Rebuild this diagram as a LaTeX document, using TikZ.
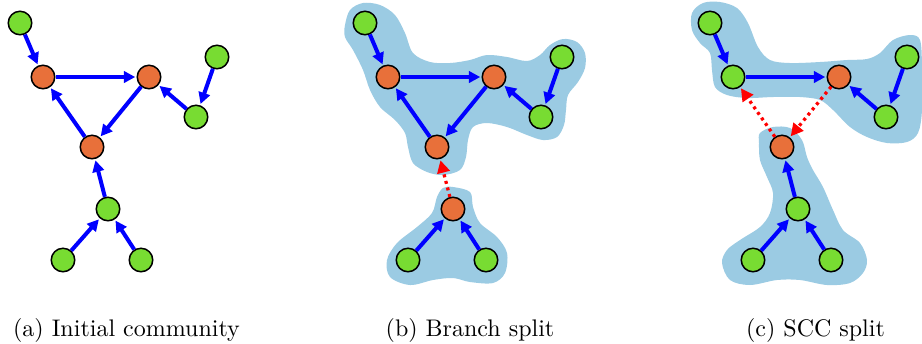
\documentclass[tikz,border=0pt]{standalone}
\usetikzlibrary{arrows.meta}
\definecolor{gnode}{HTML}{78DC32}
\definecolor{onode}{HTML}{E8703A}
\definecolor{blob}{HTML}{9BCBE3}
\begin{document}
\begin{tikzpicture}[x=0.4pt,y=-0.4pt,
  vert/.style={circle,draw=black,line width=0.6pt,minimum size=9.4pt,inner sep=0pt},
  gv/.style={vert,fill=gnode},
  ov/.style={vert,fill=onode},
  edge/.style={draw=blue,line width=1.6pt,-{Triangle[length=4.6pt,width=4.6pt]},shorten >=0.5pt},
  redge/.style={draw=red,line width=1.3pt,dash pattern=on 1.2pt off 1.5pt,-{Triangle[length=5pt,width=5pt]},shorten >=0.5pt},
  region/.style={fill=blob,draw=none},
  captext/.style={font=\fontsize{9.6}{11.5}\selectfont,anchor=base}]
\useasboundingbox (0,0) rectangle (922,343);

% ---------- regions ----------
\fill[region] plot[smooth cycle,tension=0.55] coordinates {
 (345,25) (350,10) (363,3) (380,5) (395,15) (405,33) (413,53) (430,62) (450,63) (470,60) (487,55) (507,57) (527,61) (540,55) (550,45) (563,39) (577,42) (585,53) (585,68) (578,82) (568,95) (566,110) (564,125) (557,137) (543,140) (527,135) (507,127) (487,123) (473,127) (468,140) (466,157) (460,170) (443,175) (427,172) (413,163) (408,147) (405,133) (395,120) (380,107) (370,90) (363,70) (353,50) (345,37)};
\fill[region] plot[smooth cycle,tension=0.55] coordinates {
 (453,187) (470,192) (473,207) (480,223) (497,237) (507,253) (505,273) (493,283) (470,282) (453,278) (433,280) (410,285) (390,277) (387,260) (397,243) (417,227) (432,213) (437,197) (443,188)};
\fill[region] plot[smooth cycle,tension=0.55] coordinates {
 (692,13) (703,3) (720,2) (737,8) (748,23) (758,47) (770,60) (790,63) (820,62) (847,60) (867,59) (880,53) (893,40) (910,35) (920,40) (922,67) (922,110) (918,133) (907,142) (887,143) (867,137) (850,127) (833,110) (820,100) (800,97) (773,97) (747,98) (727,95) (715,87) (712,70) (710,53) (700,43) (692,30)};
\fill[region] plot[smooth cycle,tension=0.55] coordinates {
 (760,133) (773,127) (790,128) (802,140) (807,157) (813,170) (823,187) (833,210) (843,230) (860,243) (867,260) (863,273) (850,283) (827,285) (800,280) (777,280) (750,285) (730,280) (722,263) (727,250) (740,240) (760,227) (770,213) (773,193) (767,177) (760,160) (759,143)};

% ---------- panel (a) ----------
\node[gv] (aA) at (20,23) {};
\node[ov] (aB) at (43,77) {};
\node[ov] (aC) at (149,77) {};
\node[gv] (aD) at (217,57) {};
\node[gv] (aE) at (196,117) {};
\node[ov] (aF) at (92,147) {};
\node[gv] (aG) at (108,209) {};
\node[gv] (aH) at (63,260) {};
\node[gv] (aI) at (141,260) {};
\draw[edge] (aA) -- (aB);
\draw[edge] (aB) -- (aC);
\draw[edge] (aC) -- (aF);
\draw[edge] (aF) -- (aB);
\draw[edge] (aD) -- (aE);
\draw[edge] (aE) -- (aC);
\draw[edge] (aG) -- (aF);
\draw[edge] (aH) -- (aG);
\draw[edge] (aI) -- (aG);

% ---------- panel (b) ----------
\node[gv] (bA) at (365,23) {};
\node[ov] (bB) at (388,77) {};
\node[ov] (bC) at (494,77) {};
\node[gv] (bD) at (562,57) {};
\node[gv] (bE) at (541,117) {};
\node[ov] (bF) at (437,147) {};
\node[ov] (bG) at (453,209) {};
\node[gv] (bH) at (408,260) {};
\node[gv] (bI) at (486,260) {};
\draw[edge] (bA) -- (bB);
\draw[edge] (bB) -- (bC);
\draw[edge] (bC) -- (bF);
\draw[edge] (bF) -- (bB);
\draw[edge] (bD) -- (bE);
\draw[edge] (bE) -- (bC);
\draw[redge] (bG) -- (bF);
\draw[edge] (bH) -- (bG);
\draw[edge] (bI) -- (bG);

% ---------- panel (c) ----------
\node[gv] (cA) at (710,23) {};
\node[gv] (cB) at (733,77) {};
\node[ov] (cC) at (839,77) {};
\node[gv] (cD) at (907,57) {};
\node[gv] (cE) at (886,117) {};
\node[ov] (cF) at (782,147) {};
\node[gv] (cG) at (798,209) {};
\node[gv] (cH) at (753,260) {};
\node[gv] (cI) at (831,260) {};
\draw[edge] (cA) -- (cB);
\draw[edge] (cB) -- (cC);
\draw[redge] (cC) -- (cF);
\draw[redge] (cF) -- (cB);
\draw[edge] (cD) -- (cE);
\draw[edge] (cE) -- (cC);
\draw[edge] (cG) -- (cF);
\draw[edge] (cH) -- (cG);
\draw[edge] (cI) -- (cG);

% ---------- captions ----------
\node[captext] (capa) at (126.5,336) {(a) Initial community};
\node[captext] (capb) at (470,336) {(b) Branch split};
\node[captext] (capc) at (815.5,336) {(c) SCC split};
\end{tikzpicture}
\end{document}
